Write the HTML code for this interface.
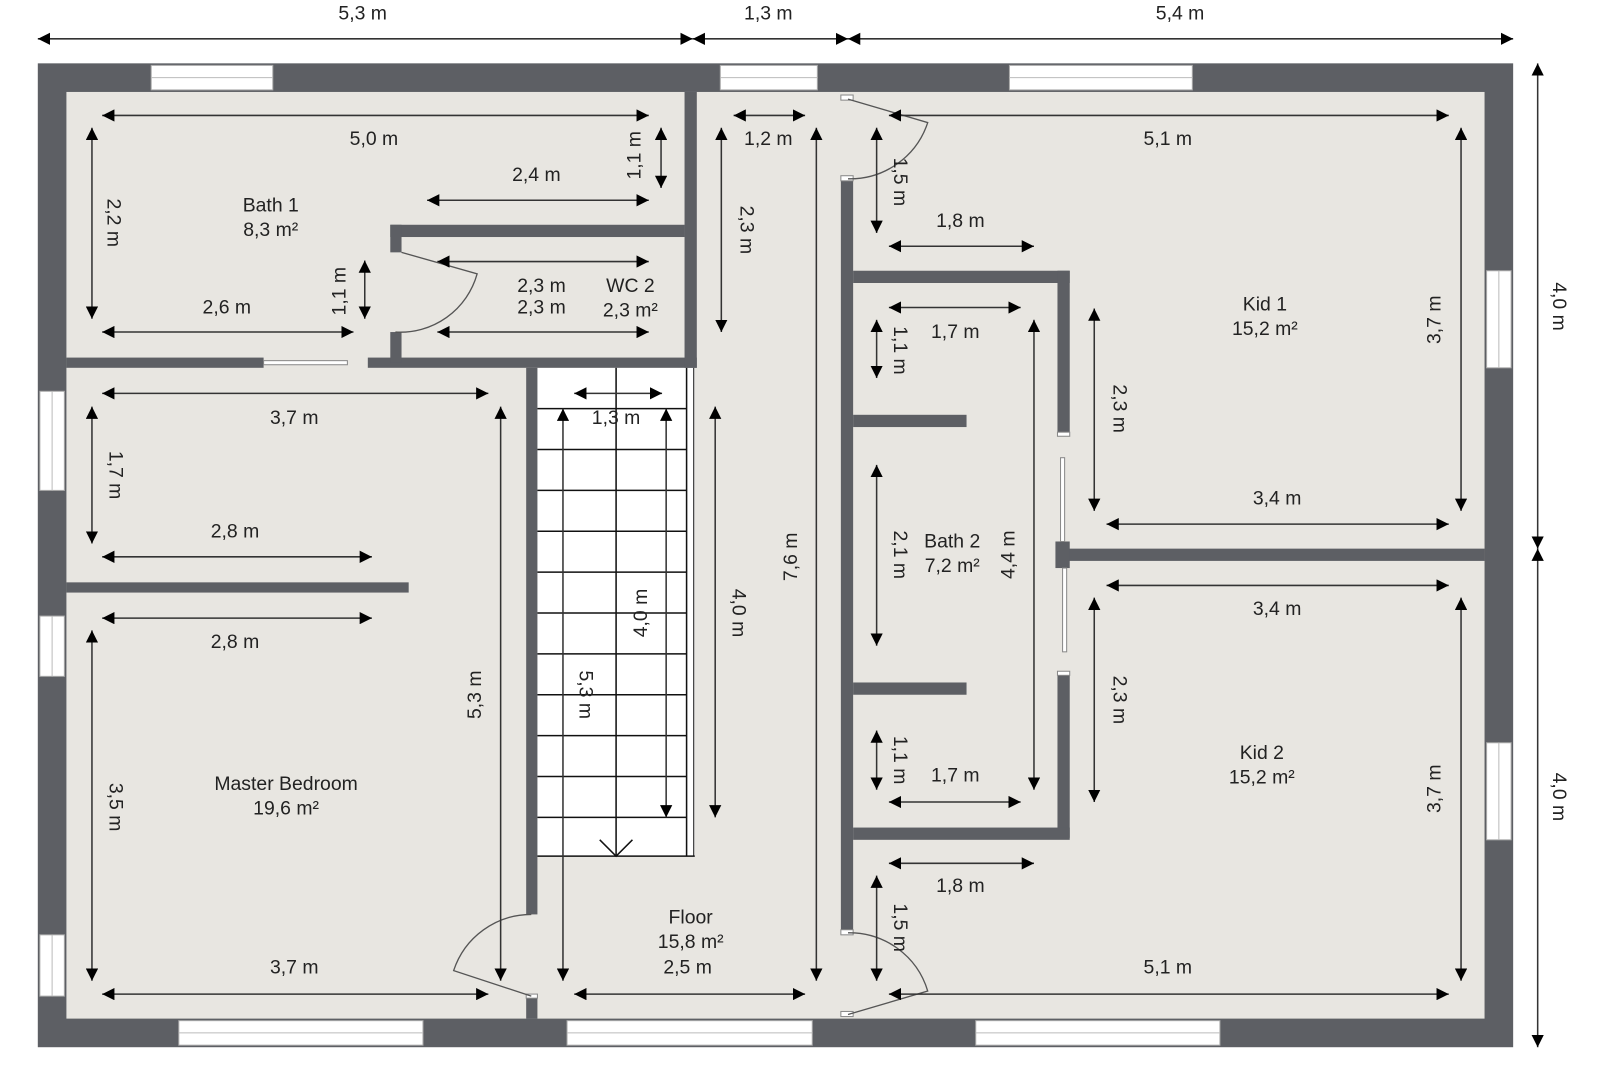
<!DOCTYPE html>
<html><head><meta charset="utf-8"><style>
html,body{margin:0;padding:0;background:#fff;}
svg{display:block}
text{font-family:"Liberation Sans",sans-serif;font-size:19px;fill:#222;text-anchor:middle;dominant-baseline:middle}
</style></head><body>
<svg width="1600" height="1084" viewBox="0 0 1566 1061" preserveAspectRatio="none" xmlns="http://www.w3.org/2000/svg">
<defs>
<marker id="a" viewBox="0 0 12 12" refX="12" refY="6" markerWidth="12" markerHeight="12" markerUnits="userSpaceOnUse" orient="auto-start-reverse"><path d="M0,0 L12,6 L0,12 z" fill="#000"/></marker>
</defs>
<!-- outer walls -->
<rect x="37" y="62" width="1444" height="963" fill="#5d5f64"/>
<rect x="65" y="90" width="1388" height="907" fill="#e8e6e1"/>
<!-- windows -->
<g fill="#fff" stroke="#aaa" stroke-width="1">
<rect x="148" y="64" width="119" height="24"/><rect x="705" y="64" width="95" height="24"/><rect x="988" y="64" width="179" height="24"/>
<rect x="175" y="999" width="239" height="24"/><rect x="555" y="999" width="240" height="24"/><rect x="955" y="999" width="239" height="24"/>
<rect x="39" y="383" width="24" height="97"/><rect x="39" y="603" width="24" height="59"/><rect x="39" y="915" width="24" height="60"/>
<rect x="1455" y="265" width="24" height="95"/><rect x="1455" y="727" width="24" height="95"/>
</g>
<g stroke="#bbb" stroke-width="1">
<line x1="148" y1="76" x2="267" y2="76"/><line x1="705" y1="76" x2="800" y2="76"/><line x1="988" y1="76" x2="1167" y2="76"/>
<line x1="175" y1="1011" x2="414" y2="1011"/><line x1="555" y1="1011" x2="795" y2="1011"/><line x1="955" y1="1011" x2="1194" y2="1011"/>
<line x1="51" y1="383" x2="51" y2="480"/><line x1="51" y1="603" x2="51" y2="662"/><line x1="51" y1="915" x2="51" y2="975"/>
<line x1="1467" y1="265" x2="1467" y2="360"/><line x1="1467" y1="727" x2="1467" y2="822"/>
</g>
<!-- stairs -->
<rect x="526" y="360" width="154" height="478" fill="#fff"/>
<g stroke="#111" stroke-width="1.5">
<line x1="603" y1="360" x2="603" y2="838"/><line x1="672" y1="360" x2="672" y2="838"/><line x1="679" y1="360" x2="679" y2="838" stroke-width="1"/>
<line x1="526" y1="400" x2="672" y2="400"/><line x1="526" y1="440" x2="672" y2="440"/><line x1="526" y1="480" x2="672" y2="480"/><line x1="526" y1="520" x2="672" y2="520"/><line x1="526" y1="560" x2="672" y2="560"/><line x1="526" y1="600" x2="672" y2="600"/><line x1="526" y1="640" x2="672" y2="640"/><line x1="526" y1="680" x2="672" y2="680"/><line x1="526" y1="720" x2="672" y2="720"/><line x1="526" y1="760" x2="672" y2="760"/><line x1="526" y1="800" x2="672" y2="800"/>
<line x1="526" y1="838" x2="680" y2="838"/>
<polyline points="587,822 603,838 619,822" fill="none"/>
</g>
<!-- interior walls -->
<g fill="#5d5f64">
<rect x="65" y="350" width="193" height="10"/><rect x="360" y="350" width="322" height="10"/>
<rect x="670" y="90" width="12" height="270"/>
<rect x="382" y="220" width="288" height="12"/>
<rect x="382" y="220" width="11" height="27"/><rect x="382" y="325" width="11" height="30"/>
<rect x="515" y="360" width="11" height="535"/><rect x="515" y="975" width="11" height="22"/>
<rect x="65" y="570" width="335" height="10"/>
<rect x="823" y="175" width="12" height="738"/>
<rect x="835" y="265" width="212" height="12"/><rect x="1035" y="265" width="12" height="160"/><rect x="1035" y="660" width="12" height="160"/>
<rect x="835" y="810" width="212" height="12"/>
<rect x="835" y="406" width="111" height="12"/><rect x="835" y="668" width="111" height="12"/>
<rect x="1035" y="537" width="418" height="12"/>
<rect x="1033" y="530" width="14" height="26"/>
</g>
<!-- sliding / doors -->
<g fill="#fff" stroke="#888" stroke-width="1">
<rect x="258" y="353" width="82" height="4"/>
<rect x="1038" y="448" width="4" height="82"/><rect x="1040" y="556" width="4" height="82"/>
<rect x="823" y="93" width="12" height="5"/><rect x="823" y="172" width="12" height="5"/>
<rect x="823" y="910" width="12" height="5"/><rect x="823" y="990" width="12" height="5"/>
<rect x="515" y="973" width="11" height="4"/>
<rect x="1035" y="423" width="12" height="4"/><rect x="1035" y="657" width="12" height="4"/>
</g>
<g fill="none" stroke="#555" stroke-width="1.3">
<path d="M520,975 L444,950 A80,80 0 0 1 520,895"/>
<path d="M830,97 L908,120 A80,80 0 0 1 830,175"/>
<path d="M830,993 L908,970 A80,80 0 0 0 830,913"/>
<path d="M393,247 L467,268 A78,78 0 0 1 387,325"/>
</g>
<!-- dimension lines -->
<g stroke="#333" stroke-width="1.5" marker-start="url(#a)" marker-end="url(#a)">
<line x1="37" y1="38" x2="678" y2="38"/><line x1="678" y1="38" x2="830" y2="38"/><line x1="830" y1="38" x2="1481" y2="38"/>
<line x1="1505" y1="62" x2="1505" y2="537"/><line x1="1505" y1="537" x2="1505" y2="1025"/>
<line x1="100" y1="113" x2="635" y2="113"/><line x1="90" y1="125" x2="90" y2="312"/><line x1="418" y1="196" x2="635" y2="196"/><line x1="647" y1="125" x2="647" y2="184"/>
<line x1="100" y1="325" x2="346" y2="325"/><line x1="357" y1="255" x2="357" y2="312"/>
<line x1="428" y1="256" x2="635" y2="256"/><line x1="428" y1="325" x2="635" y2="325"/>
<line x1="718" y1="113" x2="788" y2="113"/><line x1="706" y1="125" x2="706" y2="325"/><line x1="799" y1="125" x2="799" y2="960"/><line x1="562" y1="973" x2="788" y2="973"/>
<line x1="562" y1="385" x2="648" y2="385"/><line x1="551" y1="400" x2="551" y2="960"/><line x1="652" y1="400" x2="652" y2="800"/><line x1="700" y1="398" x2="700" y2="800"/>
<line x1="100" y1="385" x2="478" y2="385"/><line x1="90" y1="398" x2="90" y2="532"/><line x1="100" y1="545" x2="364" y2="545"/><line x1="100" y1="605" x2="364" y2="605"/><line x1="90" y1="617" x2="90" y2="960"/><line x1="490" y1="398" x2="490" y2="960"/><line x1="100" y1="973" x2="478" y2="973"/>
<line x1="870" y1="113" x2="1418" y2="113"/><line x1="858" y1="125" x2="858" y2="228"/><line x1="870" y1="241" x2="1012" y2="241"/><line x1="1430" y1="125" x2="1430" y2="500"/><line x1="1071" y1="302" x2="1071" y2="500"/><line x1="1083" y1="513" x2="1418" y2="513"/>
<line x1="870" y1="301" x2="999" y2="301"/><line x1="858" y1="313" x2="858" y2="370"/><line x1="858" y1="455" x2="858" y2="632"/><line x1="1012" y1="313" x2="1012" y2="773"/><line x1="858" y1="715" x2="858" y2="773"/><line x1="870" y1="785" x2="999" y2="785"/>
<line x1="1083" y1="573" x2="1418" y2="573"/><line x1="1071" y1="585" x2="1071" y2="785"/><line x1="1430" y1="585" x2="1430" y2="960"/><line x1="870" y1="845" x2="1012" y2="845"/><line x1="858" y1="857" x2="858" y2="960"/><line x1="870" y1="973" x2="1418" y2="973"/>
</g>
<!-- labels -->
<text x="355" y="14">5,3 m</text><text x="752" y="14">1,3 m</text><text x="1155" y="14">5,4 m</text>
<text transform="translate(1525,300) rotate(90)">4,0 m</text><text transform="translate(1525,780) rotate(90)">4,0 m</text>
<text x="366" y="137">5,0 m</text><text transform="translate(110,218) rotate(90)">2,2 m</text><text x="525" y="172">2,4 m</text><text transform="translate(622,152) rotate(-90)">1,1 m</text>
<text x="222" y="302">2,6 m</text><text transform="translate(333,285) rotate(-90)">1,1 m</text>
<text x="265" y="202">Bath 1</text><text x="265" y="226">8,3 m²</text>
<text x="530" y="281">2,3 m</text><text x="530" y="302">2,3 m</text><text x="617" y="281">WC 2</text><text x="617" y="305">2,3 m²</text>
<text x="752" y="137">1,2 m</text><text transform="translate(730,225) rotate(90)">2,3 m</text><text transform="translate(775,545) rotate(-90)">7,6 m</text>
<text x="676" y="899">Floor</text><text x="676" y="923">15,8 m²</text><text x="673" y="948">2,5 m</text>
<text x="603" y="410">1,3 m</text><text transform="translate(572,680) rotate(90)">5,3 m</text><text transform="translate(628,600) rotate(-90)">4,0 m</text><text transform="translate(722,600) rotate(90)">4,0 m</text>
<text x="288" y="410">3,7 m</text><text transform="translate(112,465) rotate(90)">1,7 m</text><text x="230" y="521">2,8 m</text><text x="230" y="629">2,8 m</text><text transform="translate(112,790) rotate(90)">3,5 m</text><text transform="translate(466,680) rotate(-90)">5,3 m</text><text x="288" y="948">3,7 m</text>
<text x="280" y="768">Master Bedroom</text><text x="280" y="792">19,6 m²</text>
<text x="1143" y="137">5,1 m</text><text transform="translate(880,178) rotate(90)">1,5 m</text><text x="940" y="217">1,8 m</text><text transform="translate(1405,313) rotate(-90)">3,7 m</text><text transform="translate(1095,400) rotate(90)">2,3 m</text><text x="1250" y="489">3,4 m</text>
<text x="1238" y="299">Kid 1</text><text x="1238" y="323">15,2 m²</text>
<text x="935" y="326">1,7 m</text><text transform="translate(880,343) rotate(90)">1,1 m</text><text transform="translate(880,543) rotate(90)">2,1 m</text><text transform="translate(988,543) rotate(-90)">4,4 m</text><text transform="translate(880,744) rotate(90)">1,1 m</text><text x="935" y="760">1,7 m</text>
<text x="932" y="531">Bath 2</text><text x="932" y="555">7,2 m²</text>
<text x="1250" y="597">3,4 m</text><text transform="translate(1095,685) rotate(90)">2,3 m</text><text transform="translate(1405,772) rotate(-90)">3,7 m</text><text x="940" y="868">1,8 m</text><text transform="translate(880,908) rotate(90)">1,5 m</text><text x="1143" y="948">5,1 m</text>
<text x="1235" y="738">Kid 2</text><text x="1235" y="762">15,2 m²</text>
</svg>
</body></html>
